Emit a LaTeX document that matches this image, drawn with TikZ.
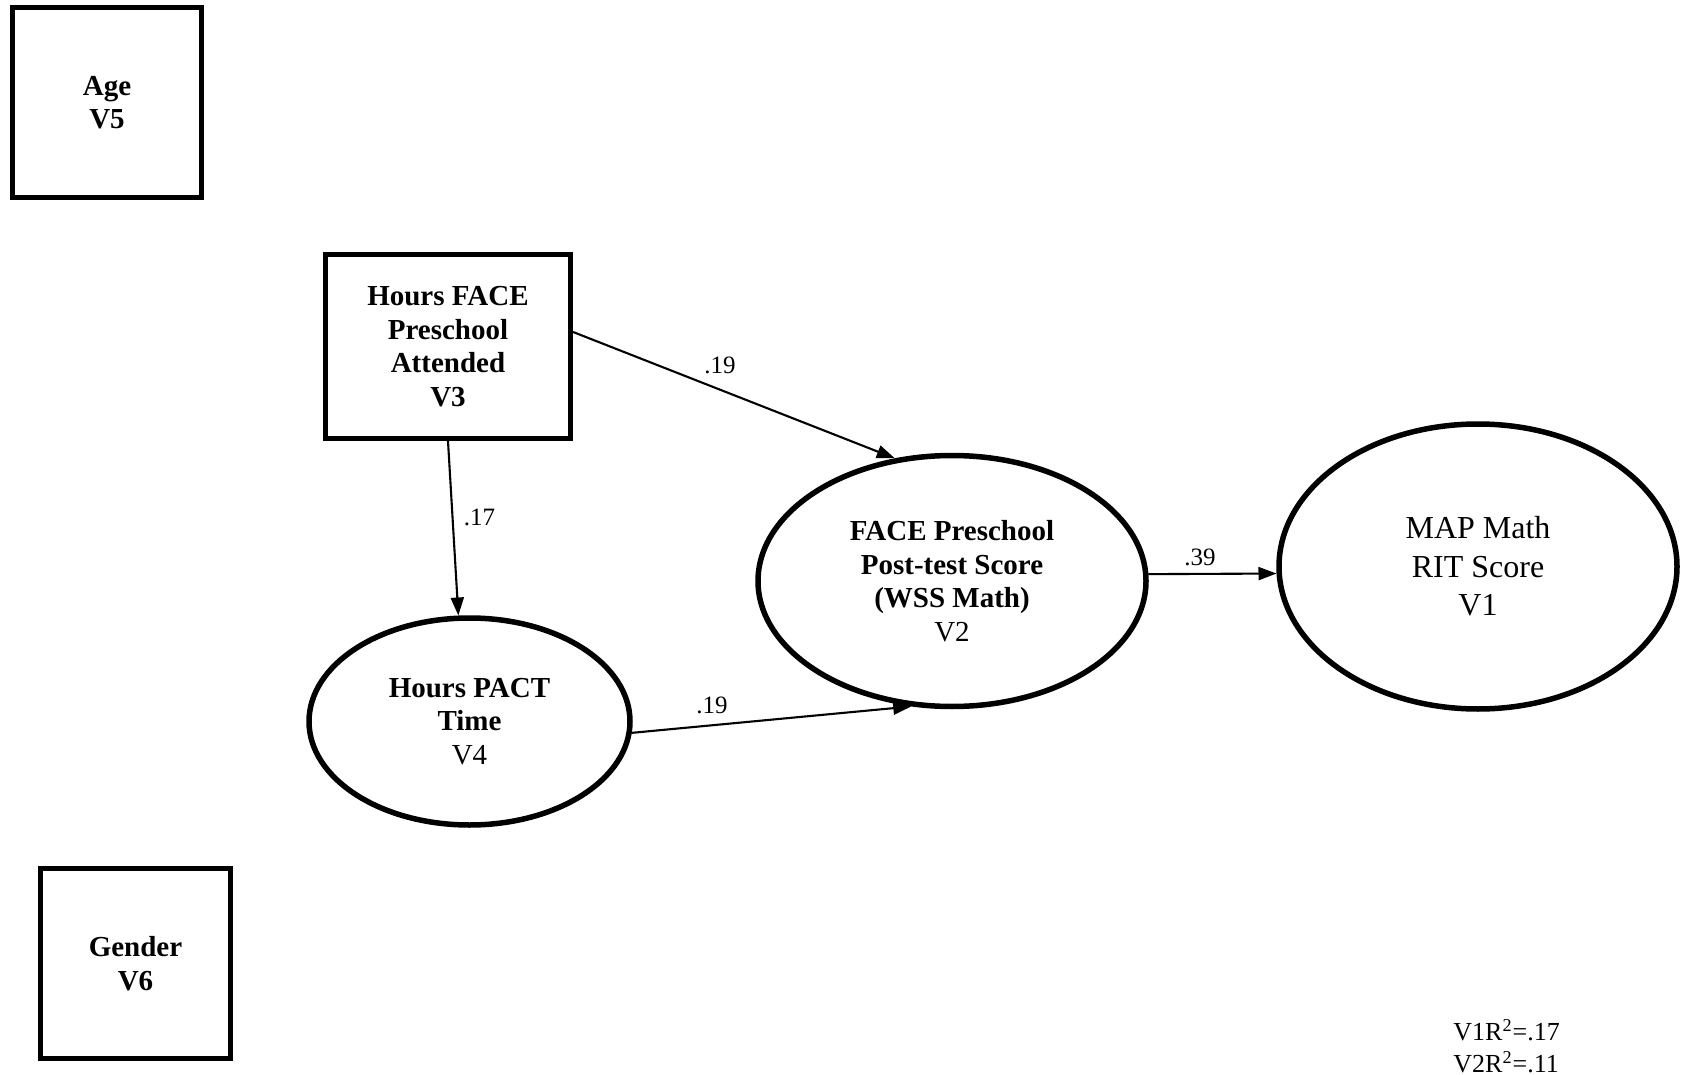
\documentclass[tikz,border=0pt]{standalone}
\usepackage{fontspec}
\setmainfont{Liberation Serif}
\usetikzlibrary{arrows.meta,shapes.geometric}
\tikzset{
  x=0.5pt, y=-0.5pt,
  bx/.style={draw, line width=2.6pt, rectangle, inner sep=0pt, align=center,
    font=\fontsize{14.5}{16.75}\selectfont\bfseries},
  el/.style={draw, line width=2.75pt, ellipse, inner sep=0pt, align=center,
    font=\fontsize{14.5}{16.75}\selectfont},
  elbig/.style={draw, line width=2.75pt, ellipse, inner sep=0pt, align=center,
    font=\fontsize{16}{19.25}\selectfont},
  arr/.style={line width=1.05pt, -{Triangle[length=9pt,width=6.5pt]}},
  lbl/.style={inner sep=0pt, font=\fontsize{12.5}{15}\selectfont},
  rsq/.style={inner sep=0pt, anchor=base west, font=\fontsize{13}{16}\selectfont}
}
\begin{document}
\begin{tikzpicture}
\useasboundingbox (0,0) rectangle (1682,1075);
\fill[white] (0,0) rectangle (1682,1075);

\node[bx, minimum width=94.5pt, minimum height=95pt] (v5) at (107,102.5) {Age\\V5};
\node[bx, minimum width=122.5pt, minimum height=92pt] (v3) at (448,346.5) {Hours FACE\\Preschool\\Attended\\V3};
\node[bx, minimum width=95pt, minimum height=95pt] (v6) at (135.5,963.5) {Gender\\V6};

\node[el, minimum width=160.5pt, minimum height=103.5pt] (v4) at (469.5,721.5) {\textbf{Hours PACT}\\\textbf{Time}\\V4};
\node[el, minimum width=194pt, minimum height=125.5pt] (v2) at (952,581) {\textbf{FACE Preschool}\\\textbf{Post-test Score}\\\textbf{(WSS Math)}\\V2};
\node[elbig, minimum width=199pt, minimum height=142.5pt] (v1) at (1478,566.5) {MAP Math\\RIT Score\\V1};

\draw[arr] ([yshift=7.25pt]v3.east) -- (v2.115.4);
\draw[arr] (v3.south) -- (v4.96.7);
\draw[arr] (v4.-4) -- (v2.252.8);
\draw[arr] (v2.2.3) -- (v1.182);

\node[lbl] (l32) at (720,365) {.19};
\node[lbl] (l34) at (479.5,517) {.17};
\node[lbl] (l42) at (712,705) {.19};
\node[lbl] (l21) at (1200,557) {.39};

\node[rsq] (r1) at (1453,1040) {V1R\textsuperscript{2}=.17};
\node[rsq] (r2) at (1453,1072) {V2R\textsuperscript{2}=.11};
\end{tikzpicture}
\end{document}
